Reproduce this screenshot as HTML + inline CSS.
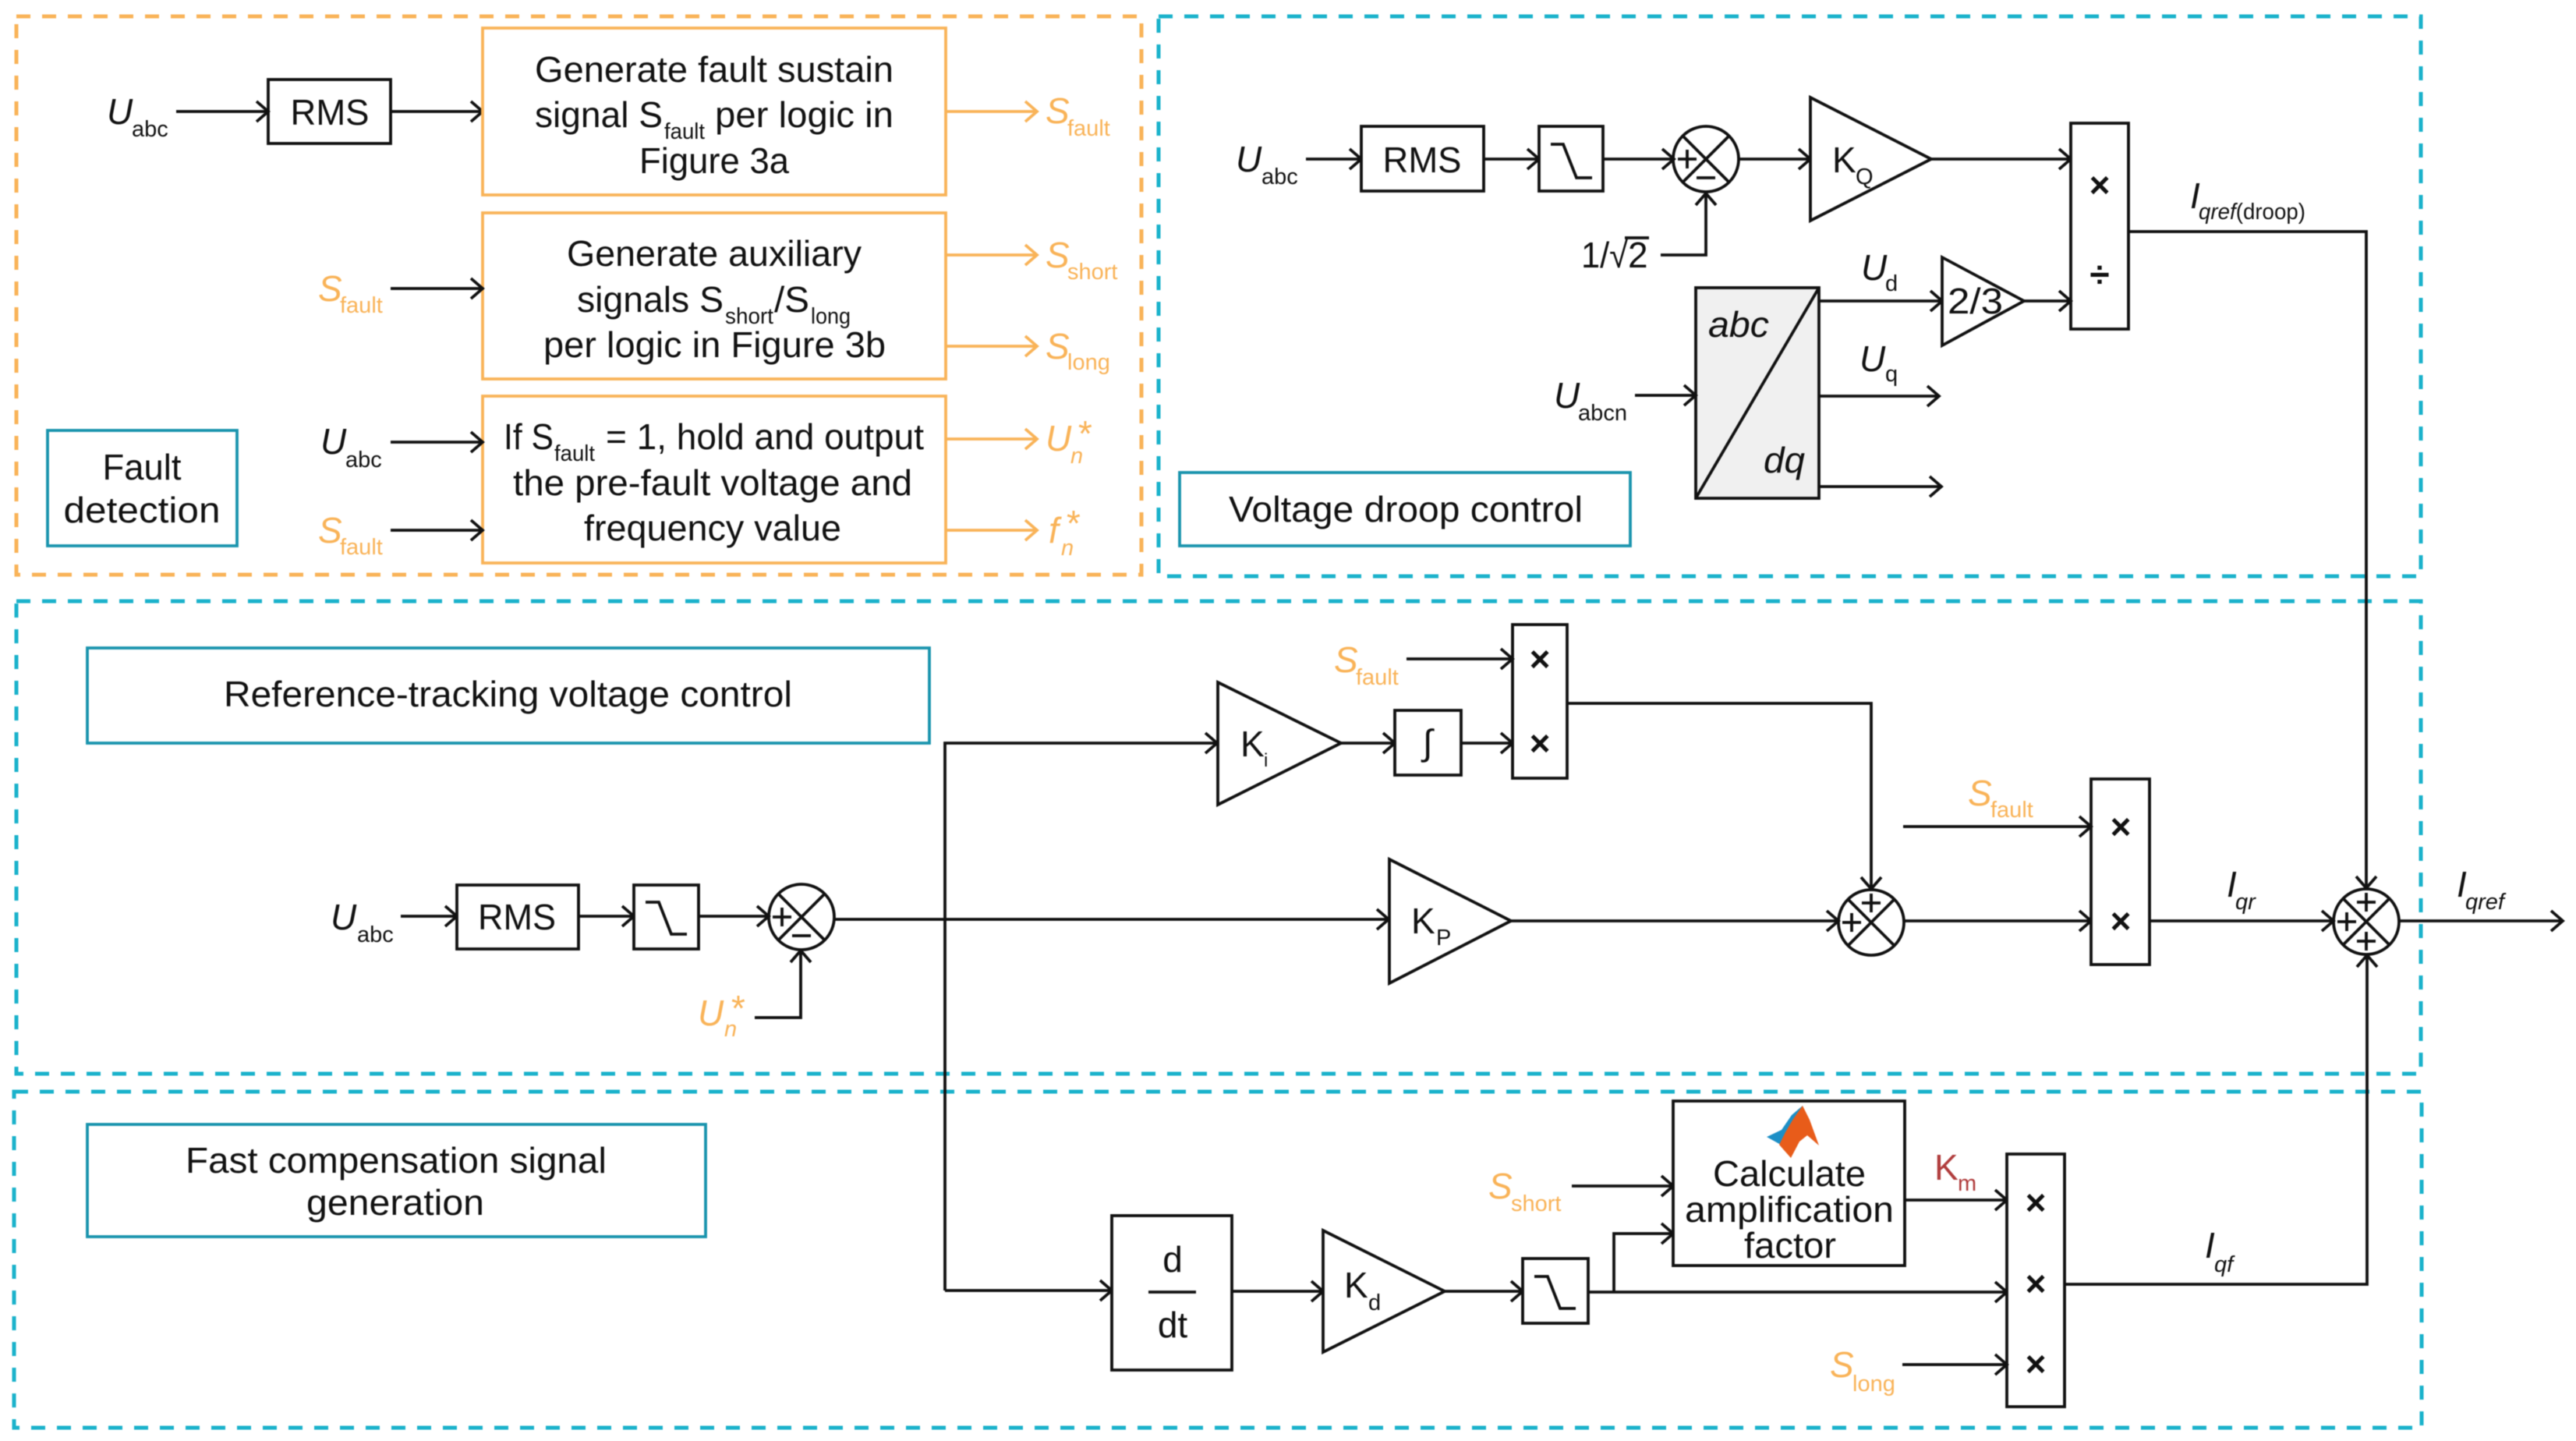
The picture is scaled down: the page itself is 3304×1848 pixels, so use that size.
<!DOCTYPE html>
<html><head><meta charset="utf-8">
<style>
html,body{margin:0;padding:0;background:#fff}
svg{display:block;filter:blur(.5px)}
text{font-family:"Liberation Sans",sans-serif;fill:#111}
.m{font-size:46px}
.c{text-anchor:middle}
.i{font-style:italic;font-size:46px}
.s{font-size:29px}
.si{font-size:29px;font-style:italic}
.x{font-size:46px;font-weight:bold;text-anchor:middle}
.o,.o tspan{fill:#f9b358}
.r{fill:#b03c3c}
.dash{fill:none;stroke-width:5;stroke-dasharray:18 15}
.box{fill:#fff;stroke:#111;stroke-width:3.8}
.ob{fill:#fff;stroke:#f9b358;stroke-width:3.8}
.tb{fill:#fff;stroke:#1a94ad;stroke-width:3.8}
.w{fill:none;stroke:#111;stroke-width:3.8}
.a{fill:none;stroke:#111;stroke-width:3.8;marker-end:url(#ah)}
.oa{fill:none;stroke:#f9b358;stroke-width:3.8;marker-end:url(#oh)}
</style></head><body>
<svg width="3304" height="1848" viewBox="0 0 3304 1848" xmlns="http://www.w3.org/2000/svg">
<defs>
<marker id="ah" markerUnits="userSpaceOnUse" markerWidth="26" markerHeight="32" refX="20" refY="15" orient="auto"><path d="M5,2 L20,15 L5,28" fill="none" stroke="#111" stroke-width="3.8"/></marker>
<marker id="oh" markerUnits="userSpaceOnUse" markerWidth="26" markerHeight="32" refX="20" refY="15" orient="auto"><path d="M5,2 L20,15 L5,28" fill="none" stroke="#f9b358" stroke-width="3.8"/></marker>
</defs>
<rect width="3304" height="1848" fill="#fff"/>

<!-- dashed regions -->
<rect class="dash" x="21" y="21" width="1443" height="716" stroke="#f9b358"/>
<rect class="dash" x="1486" y="21" width="1619" height="718" stroke="#1ab2cb"/>
<rect class="dash" x="21" y="771" width="3084" height="606" stroke="#1ab2cb"/>
<rect class="dash" x="18" y="1400" width="3088" height="431" stroke="#1ab2cb"/>

<!-- Fault detection panel -->
<rect class="tb" x="61" y="552" width="243" height="148"/>
<text class="m c" x="182" y="615" textLength="101" lengthAdjust="spacingAndGlyphs">Fault</text>
<text class="m c" x="182" y="670" textLength="201" lengthAdjust="spacingAndGlyphs">detection</text>

<rect class="box" x="344" y="102" width="157" height="82"/>
<text class="m c" x="423" y="160" textLength="101" lengthAdjust="spacingAndGlyphs">RMS</text>
<polyline class="a" points="226,143 344,143"/>
<polyline class="a" points="501,143 619,143"/>

<rect class="ob" x="619" y="36" width="594" height="214"/>
<text class="m" x="686" y="105" textLength="460" lengthAdjust="spacingAndGlyphs">Generate fault sustain</text>
<text class="m" x="686" y="163" textLength="164" lengthAdjust="spacingAndGlyphs">signal S</text>
<text class="s" x="852" y="178" textLength="52" lengthAdjust="spacingAndGlyphs">fault</text>
<text class="m" x="917" y="163" textLength="229" lengthAdjust="spacingAndGlyphs">per logic in</text>
<text class="m" x="820" y="222" textLength="192" lengthAdjust="spacingAndGlyphs">Figure 3a</text>

<rect class="ob" x="619" y="273" width="594" height="213"/>
<text class="m" x="727" y="341" textLength="378" lengthAdjust="spacingAndGlyphs">Generate auxiliary</text>
<text class="m" x="740" y="400" textLength="188" lengthAdjust="spacingAndGlyphs">signals S</text>
<text class="s" x="930" y="415" textLength="62" lengthAdjust="spacingAndGlyphs">short</text>
<text class="m" x="993" y="400" textLength="45" lengthAdjust="spacingAndGlyphs">/S</text>
<text class="s" x="1040" y="415" textLength="51" lengthAdjust="spacingAndGlyphs">long</text>
<text class="m" x="697" y="458" textLength="439" lengthAdjust="spacingAndGlyphs">per logic in Figure 3b</text>

<rect class="ob" x="619" y="508" width="594" height="214"/>
<text class="m" x="646" y="576" textLength="64" lengthAdjust="spacingAndGlyphs">If S</text>
<text class="s" x="711" y="591" textLength="52" lengthAdjust="spacingAndGlyphs">fault</text>
<text class="m" x="777" y="576" textLength="408" lengthAdjust="spacingAndGlyphs">= 1, hold and output</text>
<text class="m" x="658" y="635" textLength="512" lengthAdjust="spacingAndGlyphs">the pre-fault voltage and</text>
<text class="m" x="749" y="693" textLength="330" lengthAdjust="spacingAndGlyphs">frequency value</text>

<polyline class="a" points="501,370 619,370"/>
<polyline class="a" points="501,567 619,567"/>
<polyline class="a" points="501,680 619,680"/>
<polyline class="oa" points="1213,143 1330,143"/>
<polyline class="oa" points="1213,327 1330,327"/>
<polyline class="oa" points="1213,444 1330,444"/>
<polyline class="oa" points="1213,563 1330,563"/>
<polyline class="oa" points="1213,680 1330,680"/>

<text class="i" x="137" y="159">U</text><text class="s" x="169" y="175">abc</text>
<text class="i o" x="1341" y="158">S</text><text class="s o" x="1369" y="174">fault</text>
<text class="i o" x="1341" y="343">S</text><text class="s o" x="1369" y="358">short</text>
<text class="i o" x="1341" y="460">S</text><text class="s o" x="1369" y="474">long</text>
<text class="i o" x="1341" y="578">U</text><text class="si o" x="1373" y="594">n</text><text class="i o" x="1381" y="572">*</text>
<text class="i o" x="1345" y="696">f</text><text class="si o" x="1361" y="712">n</text><text class="i o" x="1366" y="687">*</text>
<text class="i o" x="408" y="386">S</text><text class="s o" x="436" y="401">fault</text>
<text class="i" x="411" y="582">U</text><text class="s" x="443" y="599">abc</text>
<text class="i o" x="408" y="696">S</text><text class="s o" x="436" y="711">fault</text>

<!-- Voltage droop panel -->
<rect class="tb" x="1513" y="606" width="578" height="94"/>
<text class="m" x="1576" y="669" textLength="454" lengthAdjust="spacingAndGlyphs">Voltage droop control</text>

<text class="i" x="1585" y="220">U</text><text class="s" x="1618" y="236">abc</text>
<polyline class="a" points="1675,204 1746,204"/>
<rect class="box" x="1746" y="162" width="157" height="83"/>
<text class="m c" x="1824" y="221" textLength="101" lengthAdjust="spacingAndGlyphs">RMS</text>
<polyline class="a" points="1903,204 1974,204"/>
<rect class="box" x="1974" y="162" width="82" height="83"/>
<path class="w" d="M1989,185 H2005 L2022,228 H2042"/>
<polyline class="a" points="2056,204 2147,204"/>
<circle class="w" cx="2188" cy="204" r="42" fill="#fff"/>
<path class="w" d="M2158,174 L2218,234 M2218,174 L2158,234 M2152,204 H2176 M2164,192 V216 M2176,228 H2200"/>
<polyline class="a" points="2230,204 2322,204"/>
<polygon class="box" points="2322,125 2477,204 2322,283"/>
<text class="m" x="2350" y="221">K</text><text class="s" x="2380" y="236">Q</text>
<polyline class="a" points="2476,204 2656,204"/>
<rect class="box" x="2656" y="158" width="74" height="264"/>
<text class="x" x="2693" y="253">×</text>
<text class="x" x="2693" y="368">÷</text>
<text class="m" x="2028" y="343" textLength="60" lengthAdjust="spacingAndGlyphs">1/√</text>
<text class="m" x="2088" y="343">2</text>
<path class="w" d="M2084,305 H2115"/>
<polyline class="a" points="2130,327 2188,327 2188,248"/>

<rect x="2175" y="369" width="158" height="270" fill="#f0f0f0" stroke="#111" stroke-width="3.8"/>
<path class="w" d="M2333,369 L2175,639"/>
<text class="i" x="2191" y="432" textLength="78" lengthAdjust="spacingAndGlyphs">abc</text>
<text class="i" x="2262" y="606" textLength="53" lengthAdjust="spacingAndGlyphs">dq</text>
<polyline class="a" points="2097,507 2175,507"/>
<text class="i" x="1993" y="523">U</text><text class="s" x="2024" y="539" textLength="63" lengthAdjust="spacingAndGlyphs">abcn</text>
<polyline class="a" points="2333,386 2491,386"/>
<polygon class="box" points="2491,330 2596,386 2491,443"/>
<text class="m" x="2498" y="402" textLength="71" lengthAdjust="spacingAndGlyphs">2/3</text>
<polyline class="a" points="2595,386 2656,386"/>
<polyline class="a" points="2333,508 2487,508"/>
<polyline class="a" points="2333,624 2490,624"/>
<text class="i" x="2387" y="359">U</text><text class="s" x="2418" y="373">d</text>
<text class="i" x="2385" y="476">U</text><text class="s" x="2418" y="489">q</text>
<text class="i" x="2809" y="267">I</text>
<text x="2820" y="281" class="s" textLength="137" lengthAdjust="spacingAndGlyphs"><tspan class="si">qref</tspan>(droop)</text>
<polyline class="a" points="2730,297 3035,297 3035,1139"/>

<!-- Reference tracking panel -->
<rect class="tb" x="112" y="831" width="1080" height="122"/>
<text class="m" x="287" y="906" textLength="729" lengthAdjust="spacingAndGlyphs">Reference-tracking voltage control</text>
<text class="i" x="424" y="1192">U</text><text class="s" x="458" y="1208">abc</text>
<polyline class="a" points="514,1175 586,1175"/>
<rect class="box" x="586" y="1135" width="156" height="82"/>
<text class="m c" x="663" y="1192" textLength="100" lengthAdjust="spacingAndGlyphs">RMS</text>
<polyline class="a" points="742,1175 813,1175"/>
<rect class="box" x="813" y="1135" width="83" height="82"/>
<path class="w" d="M828,1157 H845 L861,1198 H881"/>
<polyline class="a" points="896,1175 986,1175"/>
<circle class="w" cx="1028" cy="1176" r="42" fill="#fff"/>
<path class="w" d="M998,1146 L1058,1206 M1058,1146 L998,1206 M991,1176 H1015 M1003,1164 V1188 M1016,1200 H1040"/>
<polyline class="a" points="968,1305 1027,1305 1027,1219"/>
<text class="i o" x="895" y="1315">U</text><text class="si o" x="929" y="1329">n</text><text class="i o" x="936" y="1309">*</text>
<polyline class="a" points="1070,1179 1781,1179"/>
<polyline class="a" points="1212,1655 1212,953 1561,953"/>
<polygon class="box" points="1562,875 1720,953 1562,1032"/>
<text class="m" x="1591" y="970">K</text><text class="s" x="1621" y="983" style="font-size:24px">i</text>
<polyline class="a" points="1719,953 1789,953"/>
<rect class="box" x="1789" y="911" width="85" height="83"/>
<text class="m c" x="1831" y="968">∫</text>
<polyline class="a" points="1874,953 1940,953"/>
<rect class="box" x="1940" y="801" width="70" height="197"/>
<text class="x" x="1975" y="861">×</text>
<text class="x" x="1975" y="969">×</text>
<polyline class="a" points="1804,845 1940,845"/>
<text class="i o" x="1711" y="862">S</text><text class="s o" x="1739" y="878">fault</text>
<polyline class="a" points="2010,902 2400,902 2400,1140"/>
<polygon class="box" points="1782,1102 1938,1181 1782,1261"/>
<text class="m" x="1810" y="1197">K</text><text class="s" x="1842" y="1212">P</text>
<polyline class="a" points="1937,1181 2358,1181"/>
<circle class="w" cx="2400" cy="1183" r="42" fill="#fff"/>
<path class="w" d="M2370,1153 L2430,1213 M2430,1153 L2370,1213 M2388,1158 H2412 M2400,1146 V1170 M2363,1183 H2387 M2375,1171 V1195"/>
<polyline class="a" points="2442,1181 2682,1181"/>
<rect class="box" x="2682" y="999" width="75" height="238"/>
<text class="x" x="2720" y="1076">×</text>
<text class="x" x="2720" y="1197">×</text>
<polyline class="a" points="2441,1060 2682,1060"/>
<text class="i o" x="2524" y="1033">S</text><text class="s o" x="2553" y="1048">fault</text>
<polyline class="a" points="2757,1181 2993,1181"/>
<text class="i" x="2856" y="1150">I</text><text class="si" x="2867" y="1166">qr</text>
<circle class="w" cx="3035" cy="1182" r="42" fill="#fff"/>
<path class="w" d="M3005,1152 L3065,1212 M3065,1152 L3005,1212 M3023,1157 H3047 M3035,1145 V1169 M2998,1182 H3022 M3010,1170 V1194 M3023,1207 H3047 M3035,1195 V1219"/>
<polyline class="a" points="3077,1181 3287,1181"/>
<text class="i" x="3151" y="1150">I</text><text class="si" x="3162" y="1166">qref</text>

<!-- Fast compensation panel -->
<rect class="tb" x="112" y="1442" width="793" height="144"/>
<text class="m" x="238" y="1504" textLength="540" lengthAdjust="spacingAndGlyphs">Fast compensation signal</text>
<text class="m" x="393" y="1558" textLength="228" lengthAdjust="spacingAndGlyphs">generation</text>
<polyline class="a" points="1212,1655 1426,1655"/>
<rect class="box" x="1426" y="1559" width="154" height="198"/>
<text class="m c" x="1504" y="1631">d</text>
<path class="w" d="M1473,1657 H1534"/>
<text class="m c" x="1504" y="1715">dt</text>
<polyline class="a" points="1580,1656 1697,1656"/>
<polygon class="box" points="1697,1578 1853,1656 1697,1734"/>
<text class="m" x="1724" y="1664">K</text><text class="s" x="1755" y="1680">d</text>
<polyline class="a" points="1853,1656 1953,1656"/>
<rect class="box" x="1953" y="1614" width="84" height="83"/>
<path class="w" d="M1968,1637 H1985 L2001,1678 H2021"/>
<polyline class="a" points="2037,1657 2574,1657"/>
<polyline class="a" points="2070,1657 2070,1582 2146,1582"/>
<polyline class="a" points="2016,1521 2146,1521"/>
<text class="i o" x="1909" y="1537">S</text><text class="s o" x="1938" y="1553">short</text>
<rect class="box" x="2146" y="1412" width="297" height="211"/>
<polygon points="2266,1458 2285,1449 2298,1430 2312,1418 2296,1450 2284,1468" fill="#1d8fc6"/>
<polygon points="2312,1418 2321,1436 2333,1469 2318,1456 2308,1464 2297,1485 2282,1468 2290,1452 2300,1435" fill="#e85c1a"/>
<text class="m c" x="2295" y="1521" textLength="196" lengthAdjust="spacingAndGlyphs">Calculate</text>
<text class="m c" x="2295" y="1567" textLength="268" lengthAdjust="spacingAndGlyphs">amplification</text>
<text class="m c" x="2296" y="1613" textLength="118" lengthAdjust="spacingAndGlyphs">factor</text>
<polyline class="a" points="2443,1539 2574,1539"/>
<text class="m r" x="2481" y="1513">K</text><text class="s r" x="2511" y="1527">m</text>
<rect class="box" x="2574" y="1480" width="74" height="324"/>
<text class="x" x="2611" y="1558">×</text>
<text class="x" x="2611" y="1662">×</text>
<text class="x" x="2611" y="1765">×</text>
<polyline class="a" points="2440,1750 2574,1750"/>
<text class="i o" x="2347" y="1766">S</text><text class="s o" x="2376" y="1784">long</text>
<text class="i" x="2828" y="1613">I</text><text class="si" x="2840" y="1631">qf</text>
<polyline class="a" points="2648,1647 3036,1647 3036,1225"/>
</svg>
</body></html>
